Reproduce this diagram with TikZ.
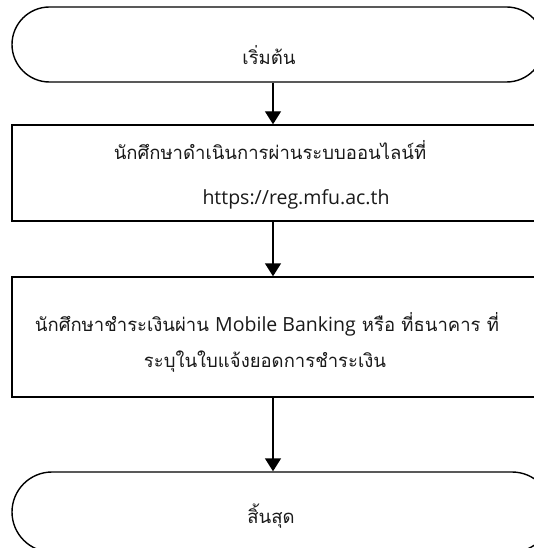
\documentclass[tikz,border=0pt]{standalone}
\usepackage{fontspec}
\newfontfamily\thaifont[Script=Thai]{Loma}
\newfontfamily\latfont{Open Sans}
\newcommand{\lat}[1]{{\latfont\fontsize{19.5}{22}\selectfont #1}}
\usetikzlibrary{arrows.meta}
\tikzset{
  shapeline/.style={draw=black, line width=1.4pt},
  term/.style={shapeline, rectangle, rounded corners=37.5pt, inner sep=0pt},
  procbox/.style={shapeline, rectangle, inner sep=0pt},
  txt/.style={inner sep=0pt, anchor=base, text=black!90, font=\thaifont\fontsize{18.5}{22}\selectfont},
  arr/.style={line width=1.4pt, -{Triangle[width=16pt,length=13pt]}}
}
\begin{document}
\begin{tikzpicture}[x=1pt,y=-1pt]
\useasboundingbox (0,0) rectangle (534,548);
\clip (0,0) rectangle (534,548);
\node[term, minimum width=532pt, minimum height=75pt] (start) at (278,44.5) {};
\node[procbox, minimum width=536pt, minimum height=96pt] (p1) at (280,173) {};
\node[procbox, minimum width=536pt, minimum height=120pt] (p2) at (280,337) {};
\node[term, minimum width=540pt, minimum height=80pt, rounded corners=40pt] (stop) at (282,512) {};
\coordinate (ax) at (273,0);
\node[txt] (ts) at (269,65) {เริ่มต้น};
\node[txt] (t1a) at (270,160) {นักศึกษาดำเนินการผ่านระบบออนไลน์ที่};
\node[txt] (t1b) at (296,204) {\lat{https://reg.mfu.ac.th}};
\node[txt] (t2a) at (267,331) {นักศึกษาชำระเงินผ่าน \lat{Mobile Banking} หรือ ที่ธนาคาร ที่};
\node[txt] (t2b) at (265,367) {ระบุในใบแจ้งยอดการชำระเงิน};
\node[txt] (te) at (271,523) {สิ้นสุด};
\draw[arr] (start.south -| ax) -- (p1.north -| ax);
\draw[arr] (p1.south -| ax) -- (p2.north -| ax);
\draw[arr] (p2.south -| ax) -- (stop.north -| ax);
\end{tikzpicture}
\end{document}
